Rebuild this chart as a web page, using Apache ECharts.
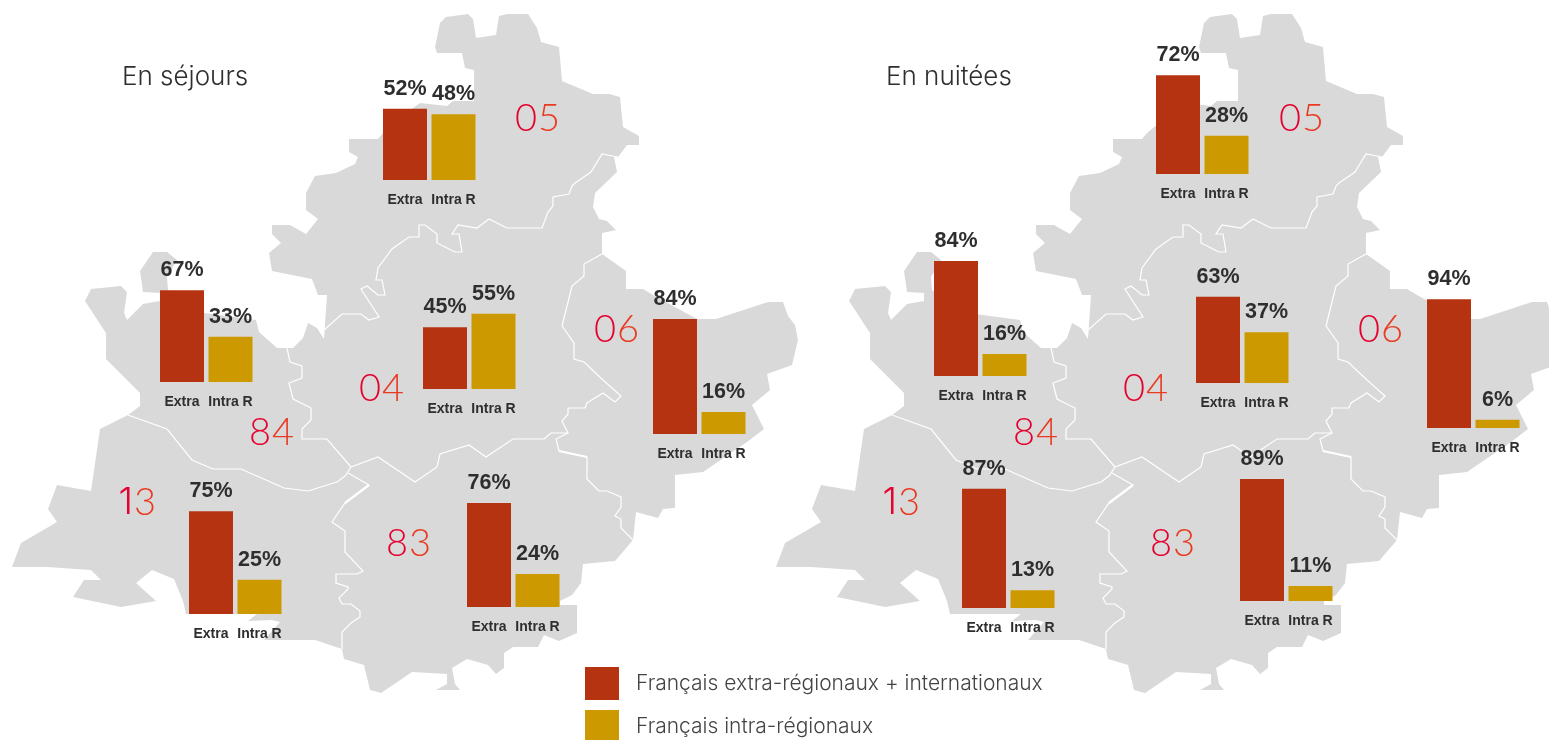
<!DOCTYPE html>
<html><head><meta charset="utf-8">
<style>html,body{margin:0;padding:0;background:#fff}#c{width:1549px;height:740px}</style>
<script src="https://cdn.jsdelivr.net/npm/echarts@6/dist/echarts.min.js"></script>
</head><body><div id="c"></div>
<script>
// ---- data ----
const departments = ['05','84','04','06','13','83'];
const categories = ['Extra','Intra R'];
const sejoursExtra = [52,67,45,84,75,76];
const sejoursIntra = [48,33,55,16,25,24];
const nuiteesExtra = [72,84,63,94,87,89];
const nuiteesIntra = [28,16,37,6,13,11];
const seriesNames = ['Français extra-régionaux + internationaux','Français intra-régionaux'];
const panelTitles = ['En séjours','En nuitées'];

// ---- layout (bar-group left edge, baseline) ----
const sejoursLayout = [[383,180],[160,382],[423,389],[653,434],[189,614],[467,607]];
const nuiteesLayout = [[1156,174],[934,376],[1196,383],[1427,428],[962,608],[1240,601]];
const numberPos = [[538,119],[272,433],[382,389],[617,330],[134,503],[409,544]];
const mapShift = 764;

// ---- background map outline ----
const outline = [[435,47],[440,23],[446,17],[468,14],[473,19],[476,38],[496,35],[499,16],[507,14],[528,14],[537,28],[541,42],[559,47],[562,81],[593,94],[609,94],[620,97],[623,127],[639,136],[639,145],[627,145],[618,157],[614,157],[617,172],[595,193],[593,207],[599,219],[607,221],[616,230],[602,233],[602,254],[626,271],[626,289],[643,289],[653,295],[697,319],[716,319],[768,302],[783,302],[788,316],[795,325],[798,340],[792,365],[767,374],[770,390],[752,405],[764,429],[747,442],[703,472],[675,475],[675,508],[663,509],[658,518],[636,512],[633,540],[615,561],[583,564],[581,583],[572,595],[560,601],[560,605],[577,605],[577,633],[559,641],[544,635],[538,647],[513,647],[504,653],[504,668],[496,674],[488,665],[467,659],[452,668],[455,684],[460,690],[436,690],[447,684],[447,674],[412,672],[381,693],[370,690],[364,665],[344,659],[342,649],[315,640],[264,640],[280,622],[272,620],[248,621],[257,614],[186,614],[183,601],[174,579],[152,570],[136,583],[156,601],[121,607],[73,597],[84,580],[101,580],[91,570],[47,567],[12,567],[21,543],[57,522],[48,509],[57,485],[91,491],[100,429],[128,415],[140,406],[140,393],[106,359],[106,333],[85,301],[91,289],[121,286],[127,292],[124,313],[127,320],[143,304],[160,301],[160,293],[143,292],[140,271],[153,252],[167,252],[177,260],[167,277],[168,290],[204,313],[256,320],[259,332],[277,348],[293,348],[303,338],[308,323],[317,328],[324,339],[327,295],[318,295],[312,279],[272,271],[269,253],[281,243],[272,234],[272,225],[290,225],[306,234],[318,219],[306,210],[306,193],[315,176],[336,173],[355,164],[358,157],[349,152],[349,139],[378,139],[383,133],[413,108],[420,103],[447,106],[453,101],[474,101],[474,70],[465,68],[462,53],[437,53]];
const borders = [
 [[618,157],[602,154],[591,172],[575,183],[572,186],[569,194],[553,197],[553,206],[548,212],[542,228],[507,228],[489,219],[477,228],[458,225],[452,234],[459,234],[462,252],[455,252],[437,243],[437,234],[425,225],[419,225],[419,237],[409,237],[392,249],[378,268],[376,280],[382,280],[385,295],[378,295],[367,286],[361,289],[379,317],[369,320],[361,314],[342,314],[324,330]],
 [[287,348],[290,362],[302,366],[302,378],[289,383],[293,399],[311,408],[311,420],[302,429],[302,439],[327,439],[351,467]],
 [[128,415],[167,429],[192,460],[213,469],[241,469],[284,488],[308,491],[337,482],[345,476],[351,467]],
 [[351,467],[378,457],[415,482],[437,467],[440,454],[469,445],[486,457],[513,439],[544,439],[551,433],[568,433],[562,421],[568,414],[568,408],[585,408],[587,403],[603,393],[615,402],[621,396],[603,380],[584,362],[574,359],[574,343],[562,326],[572,286],[584,276],[584,264],[602,254]],
 [[568,433],[556,439],[559,451],[587,457],[587,479],[599,491],[607,491],[621,497],[621,507],[615,516],[621,519],[621,528],[633,540]],
 [[348,473],[369,485],[345,503],[332,522],[345,531],[345,552],[363,571],[357,574],[336,574],[336,583],[348,587],[348,589],[339,598],[342,604],[351,604],[360,611],[360,617],[351,623],[342,632],[342,649]]
];
const thickBorders = [[[369,485],[345,503]],[[559,451],[587,457]]];

const COL_EXTRA='#B53310', COL_INTRA='#CC9900', COL_MAP='#D9D9D9', COL_TXT='#2E2E2E';
const LIGHT='Lato', UI='Inter';
const BAR_UNIT=1.37, BAR_W=44, SLOT=48.5;

const grids=[],xAxes=[],yAxes=[],series=[];
function addGroup(base,extra,intra){
  const i=grids.length;
  grids.push({left:base[0]-(SLOT-BAR_W)/2,top:base[1]-100*BAR_UNIT,width:SLOT*2,height:100*BAR_UNIT,containLabel:false});
  xAxes.push({type:'category',gridIndex:i,data:categories,axisLine:{show:false},axisTick:{show:false},
    axisLabel:{interval:0,margin:13,color:COL_TXT,fontFamily:'Liberation Sans',fontWeight:'bold',fontSize:14,hideOverlap:false}});
  yAxes.push({type:'value',gridIndex:i,min:0,max:100,show:false,splitLine:{show:false}});
  const lab={show:true,position:'top',distance:9,formatter:'{c}%',color:COL_TXT,fontFamily:'Liberation Sans',fontWeight:'bold',fontSize:21.5};
  series.push({type:'bar',name:seriesNames[0],xAxisIndex:i,yAxisIndex:i,stack:'s'+i,barWidth:BAR_W,data:[extra,null],itemStyle:{color:COL_EXTRA},label:lab,silent:true,animation:false});
  series.push({type:'bar',name:seriesNames[1],xAxisIndex:i,yAxisIndex:i,stack:'s'+i,barWidth:BAR_W,data:[null,intra],itemStyle:{color:COL_INTRA},label:lab,silent:true,animation:false});
}
departments.forEach((d,k)=>addGroup(sejoursLayout[k],sejoursExtra[k],sejoursIntra[k]));
departments.forEach((d,k)=>addGroup(nuiteesLayout[k],nuiteesExtra[k],nuiteesIntra[k]));

const graphics=[];
const digitFont=c=>c==='1'?'300 37px '+UI:'300 38px '+LIGHT;
[0,mapShift].forEach(dx=>{
  graphics.push({type:'polygon',x:dx,z:-10,silent:true,shape:{points:outline},style:{fill:COL_MAP}});
  borders.forEach(b=>graphics.push({type:'polyline',x:dx,z:-9,silent:true,shape:{points:b},style:{stroke:'#fff',lineWidth:1.2,fill:null}}));
  thickBorders.forEach(b=>graphics.push({type:'polyline',x:dx,z:-9,silent:true,shape:{points:b},style:{stroke:'#fff',lineWidth:2.2,fill:null}}));
  departments.forEach((d,k)=>{
    const cx=numberPos[k][0]+dx, cy=numberPos[k][1];
    graphics.push({type:'text',x:cx-1,y:cy,z:-5,silent:true,style:{text:d[0],fill:'#E4022E',font:digitFont(d[0]),textAlign:'right',textVerticalAlign:'middle'}});
    graphics.push({type:'text',x:cx,y:cy,z:-5,silent:true,style:{text:d[1],fill:'#E93A22',font:digitFont(d[1]),textAlign:'left',textVerticalAlign:'middle'}});
  });
});

const legendText={fontFamily:UI,fontWeight:300,fontSize:21,color:'#444',padding:[7,0,0,12]};
const titleText={fontFamily:UI,fontWeight:300,fontSize:26,color:COL_TXT};
const chart=echarts.init(document.getElementById('c'),null,{renderer:'canvas'});
chart.setOption({
  animation:false,
  backgroundColor:'#fff',
  title:[
    {text:panelTitles[0],left:122,top:64,padding:0,textStyle:titleText},
    {text:panelTitles[1],left:886,top:64,padding:0,textStyle:titleText}
  ],
  legend:[
    {orient:'vertical',left:585,top:667,padding:0,itemWidth:34,itemHeight:33,icon:'rect',selectedMode:false,data:[seriesNames[0]],textStyle:legendText},
    {orient:'vertical',left:585,top:710,padding:0,itemWidth:34,itemHeight:33,icon:'rect',selectedMode:false,data:[seriesNames[1]],textStyle:legendText}
  ],
  grid:grids,xAxis:xAxes,yAxis:yAxes,series:series,graphic:graphics
});
</script></body></html>
